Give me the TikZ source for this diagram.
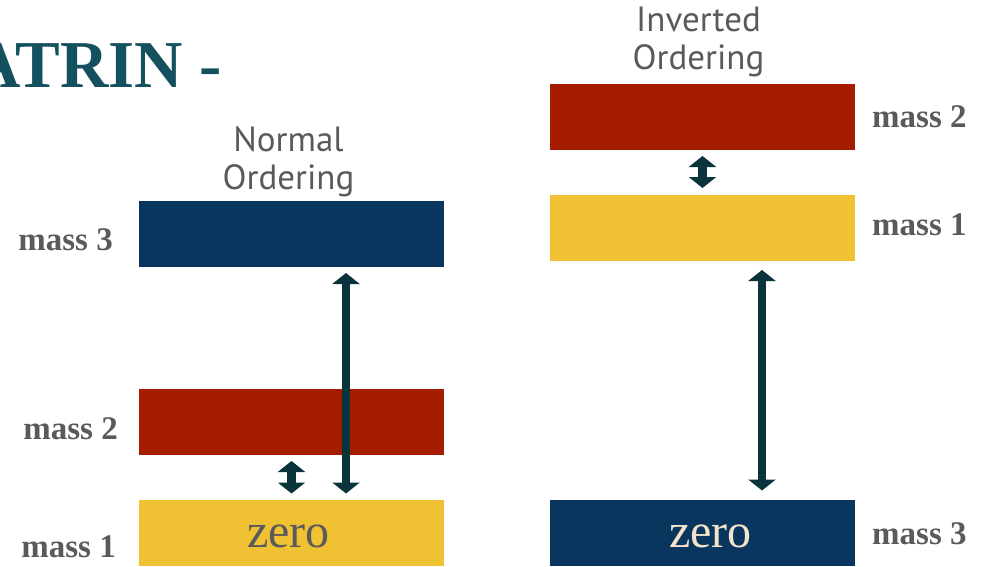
\documentclass[tikz,border=0pt]{standalone}
\usepackage{fontspec}
\setmainfont{Liberation Serif}
\newfontfamily\headfont{PT Sans}
\usetikzlibrary{positioning,arrows.meta}

\definecolor{massblue}{HTML}{08365F}
\definecolor{massred}{HTML}{A51C00}
\definecolor{massyellow}{HTML}{F0C132}
\definecolor{arrowteal}{HTML}{0A343C}
\definecolor{titleteal}{HTML}{14515F}
\definecolor{labelgray}{HTML}{5A5A5A}
\definecolor{zerocream}{HTML}{F6E3CB}

\begin{document}
\begin{tikzpicture}[x=1pt, y=-1pt,
    level/.style={minimum width=305pt, minimum height=66pt, inner sep=0pt, outer sep=0pt},
    zerotext/.style={font=\fontsize{48}{50}\selectfont, inner sep=0pt, yshift=-4pt},
    masslabel/.style={text=labelgray, font=\fontsize{33}{38}\selectfont\bfseries, inner sep=0pt},
    heading/.style={text=labelgray, font=\headfont\fontsize{35}{38}\selectfont, align=center, inner sep=0pt},
    gap/.style={arrowteal, line width=8.5pt,
        {Triangle[width=27pt,length=11pt]}-{Triangle[width=27pt,length=11pt]}}]
    \useasboundingbox (0,0) rectangle (982,567);

    % Title (cut at the left edge)
    \node[anchor=base west, inner sep=0pt, text=titleteal,
          font=\fontsize{67}{70}\selectfont\bfseries] (title) at (-28,88) {ATRIN -};

    % Normal ordering (left)
    \begin{scope}
        \node[level, fill=massblue] (nm3) at (291.5,234) {};
        \node[level, fill=massred] (nm2) at (291.5,422) {};
        \node[level, fill=massyellow] (nm1) at (291.5,532.5) {};
        \node[zerotext, text=labelgray, xshift=-3pt] (nzero) at (nm1) {zero};
        \node[heading, above=4pt of nm3, xshift=-3pt] (nhead) {Normal\\Ordering};

        % Labels
        \node[masslabel, left=26pt of nm3, yshift=-6pt] (nl3) {mass 3};
        \node[masslabel, left=21pt of nm2, yshift=-7pt] (nl2) {mass 2};
        \node[masslabel, left=23pt of nm1, yshift=-14pt] (nl1) {mass 1};

        % Splittings
        \coordinate (nx) at (346,0);
        \draw[gap, shorten <=6pt, shorten >=6pt] (nm2.south) -- (nm1.north);
        \draw[gap, shorten <=6pt, shorten >=6pt] (nm3.south -| nx) -- (nm1.north -| nx);
    \end{scope}

    % Inverted ordering (right)
    \begin{scope}
        \node[level, fill=massred] (im2) at (702.5,117) {};
        \node[level, fill=massyellow] (im1) at (702.5,228) {};
        \node[level, fill=massblue] (im3) at (702.5,532.5) {};
        \node[zerotext, text=zerocream, xshift=8pt] (izero) at (im3) {zero};
        \node[heading, above=7pt of im2, xshift=-4pt] (ihead) {Inverted\\Ordering};

        % Labels
        \node[masslabel, right=17pt of im2] (il2) {mass 2};
        \node[masslabel, right=17pt of im1, yshift=3pt] (il1) {mass 1};
        \node[masslabel, right=17pt of im3, yshift=-1.5pt] (il3) {mass 3};

        % Splittings
        \coordinate (ix) at (762,0);
        \draw[gap, shorten <=6pt, shorten >=7pt] (im2.south) -- (im1.north);
        \draw[gap, shorten <=9pt, shorten >=9pt] (im1.south -| ix) -- (im3.north -| ix);
    \end{scope}
\end{tikzpicture}
\end{document}
